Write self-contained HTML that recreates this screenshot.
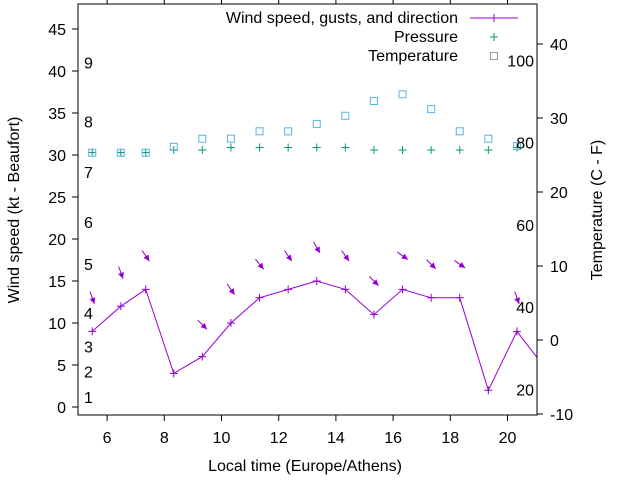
<!DOCTYPE html>
<html><head><meta charset="utf-8"><style>
body{margin:0;background:#fff}
svg{display:block;font-family:"Liberation Sans",sans-serif;font-size:16px}
</style></head><body>
<svg id="c" width="640" height="480" xmlns="http://www.w3.org/2000/svg">
<rect width="640" height="480" fill="#fff"/>
<g id="marks"></g>
<rect x="78" y="4" width="459" height="411" fill="none" stroke="#000" stroke-width="1"/>
<g id="axes"></g>
<text x="305" y="471" text-anchor="middle">Local time (Europe/Athens)</text>
<text transform="translate(19,210) rotate(-90)" text-anchor="middle">Wind speed (kt - Beaufort)</text>
<text transform="translate(602,210) rotate(-90)" text-anchor="middle">Temperature (C - F)</text>
<g>
<text x="458" y="23" text-anchor="end">Wind speed, gusts, and direction</text>
<line x1="470" y1="18" x2="518" y2="18" stroke="#9400d3"/>
<path d="M490 18h8M494 14v8" stroke="#9400d3"/>
<text x="458" y="42" text-anchor="end">Pressure</text>
<path d="M490 37h8M494 33v8" stroke="#009e73"/>
<text x="458" y="61" text-anchor="end">Temperature</text>
<rect x="490.5" y="52.5" width="7" height="7" fill="none" stroke="#999"/>
</g>
</svg>
<script>
const times=[5.48,6.48,7.35,8.33,9.33,10.33,11.33,12.33,13.33,14.33,15.33,16.33,17.33,18.33,19.33,20.33,21.35];
const wind=[9,12,14,4,6,10,13,14,15,14,11,14,13,13,2,9,4.5];
const gustTimes=[5.48,6.48,7.35,9.33,10.33,11.33,12.33,13.33,14.33,15.33,16.33,17.33,18.33,20.33];
const gusts=[13,16,18,9.8,14,17,18,19,18,15,18,17,17,13];
const gustDirDeg=[160,160,145,135,145,140,145,150,145,135,125,135,125,160];
const pressure=[30.3,30.3,30.3,30.6,30.6,30.9,30.9,30.9,30.9,30.9,30.6,30.6,30.6,30.6,30.6,30.9];
const temperature=[25.3,25.3,25.3,26.1,27.2,27.2,28.2,28.2,29.2,30.3,32.3,33.2,31.2,28.2,27.2,26.2];
const xTicks=[6,8,10,12,14,16,18,20];
const yTicks=[0,5,10,15,20,25,30,35,40,45];
const y2Ticks=[-10,0,10,20,30,40];
const beaufort=[1,2,3,4,5,6,7,8,9];
const beaufortKt=[1.2,4.2,7.2,11.2,17,22,28,34,41];
const fahrenheit=[20,40,60,80,100];

const NS="http://www.w3.org/2000/svg";
const X=t=>78.5+(t-5)*28.6;
const Y=v=>407-v*8.4;
const Y2=v=>340-v*7.4;
function mk(tag,attrs,parent,txt){const e=document.createElementNS(NS,tag);for(const k in attrs)e.setAttribute(k,attrs[k]);if(txt!==undefined)e.textContent=txt;parent.appendChild(e);return e;}
const marks=document.getElementById('marks'),axes=document.getElementById('axes');
const defs=mk('defs',{},marks);
const cp=mk('clipPath',{id:'clip'},defs);mk('rect',{x:78,y:4,width:459,height:411},cp);
const g=mk('g',{'clip-path':'url(#clip)'},marks);

xTicks.forEach(t=>{
 const l=mk('path',{d:`M${X(t)} 415v6M${X(t)} 4v-6`,stroke:'#000'},axes);
 
 
 const tx=mk('text',{x:X(t),y:443,'text-anchor':'middle'},axes,String(t));
 
 
});
yTicks.forEach(v=>{
 const l=mk('path',{d:`M78 ${Y(v)}h-6`,stroke:'#000'},axes);
 
 
 const tx=mk('text',{x:66,y:Y(v)+6,'text-anchor':'end'},axes,String(v));
 
 
});
y2Ticks.forEach(v=>{
 const l=mk('path',{d:`M537 ${Y2(v)}h6`,stroke:'#000'},axes);
 
 
 const tx=mk('text',{x:550,y:Y2(v)+6,'text-anchor':'start'},axes,String(v));
 
 
});
beaufort.forEach((b,i)=>{
 const tx=mk('text',{x:84,y:Y(beaufortKt[i])+6},axes,String(b));
 
 
});
fahrenheit.forEach(f=>{
 const c=(f-32)*5/9;
 const tx=mk('text',{x:534,y:Y2(c)+6,'text-anchor':'end'},axes,String(f));
 
 
});

// pressure
pressure.forEach((p,i)=>{
 const m=mk('path',{d:`M${X(times[i])-4} ${Y(p)}h8M${X(times[i])} ${Y(p)-4}v8`,stroke:'#009e73'},g);
 
 
});
// temperature
temperature.forEach((t,i)=>{
 const m=mk('rect',{x:X(times[i])-3.5,y:Y2(t)-3.5,width:7,height:7,fill:'none',stroke:'#56b4e9'},g);
 
 
});
// wind line
const line=mk('polyline',{points:times.map((t,i)=>X(t)+','+Y(wind[i])).join(' '),fill:'none',stroke:'#9400d3'},g);


times.forEach((t,i)=>{
 const m=mk('path',{d:`M${X(t)-4} ${Y(wind[i])}h8M${X(t)} ${Y(wind[i])-4}v8`,stroke:'#9400d3'},g);
 
 
});
// gust arrows
gustTimes.forEach((t,i)=>{
 const a=gustDirDeg[i]*Math.PI/180;
 const dx=Math.sin(a)*6.5, dy=-Math.cos(a)*6.5;
 const cx=X(t),cy=Y(gusts[i]);
 const x1=cx-dx,y1=cy-dy,x2=cx+dx,y2=cy+dy;
 const ux=dx/6.5,uy=dy/6.5,px=-uy,py=ux;
 const grp=mk('g',{},g);
 
 
 mk('line',{x1,y1,x2,y2,stroke:'#9400d3'},grp);
 mk('polygon',{points:`${x2},${y2} ${x2-ux*6+px*3},${y2-uy*6+py*3} ${x2-ux*6-px*3},${y2-uy*6-py*3}`,fill:'#9400d3'},grp);
});
</script>
</body></html>
